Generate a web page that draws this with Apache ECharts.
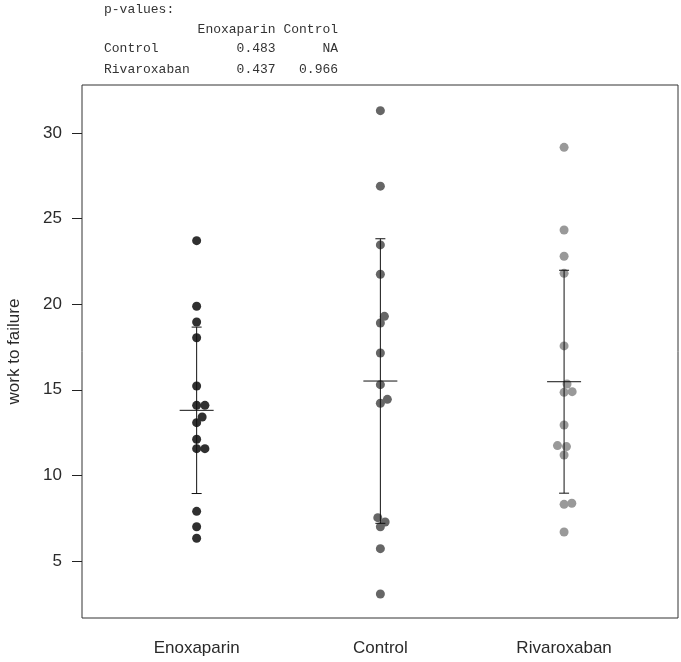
<!DOCTYPE html>
<html>
<head>
<meta charset="utf-8">
<script src="https://cdn.jsdelivr.net/npm/echarts@6/dist/echarts.min.js"></script>
<style>
  html, body { margin: 0; padding: 0; background: #fff; }
  #main { width: 681px; height: 662px; }
</style>
</head>
<body>
<div id="main"></div>
<script>
// groups along the x axis (positions 1, 2, 3)
var groups = ["Enoxaparin", "Control", "Rivaroxaban"];
var yTicks = [5, 10, 15, 20, 25, 30];

// [jittered x, work to failure]
var enoxaparin = [
    [1, 23.71], [1, 19.88], [1, 18.96], [1, 18.04], [1, 15.22],
    [1, 14.09], [1.045, 14.09], [1.03, 13.41], [1, 13.08], [1, 12.11],
    [1, 11.56], [1.045, 11.56], [1, 7.90], [1, 7.00], [1, 6.33]
];
var control = [
    [2, 31.30], [2, 26.89], [2, 23.46], [2, 21.75], [2.022, 19.29],
    [2, 18.90], [2, 17.15], [2, 15.30], [2.038, 14.44], [2, 14.21],
    [1.986, 7.53], [2.026, 7.28], [2, 7.00], [2, 5.72], [2, 3.07]
];
var rivaroxaban = [
    [3, 29.16], [3, 24.33], [3, 22.80], [3, 21.80], [3, 17.56],
    [3.016, 15.34], [3, 14.85], [3.044, 14.89], [3, 12.94], [2.964, 11.74],
    [3.013, 11.68], [3, 11.19], [3, 8.31], [3.042, 8.37], [3, 6.69]
];

// mean and standard deviation per group
var means = [13.80, 15.51, 15.47];
var sds = [4.86, 8.31, 6.51];

// p-value table printed above the plot
var pHeader = "            Enoxaparin Control";
var pRows = [
    "Control          0.483      NA",
    "Rivaroxaban      0.437   0.966"
];

var chart = echarts.init(document.getElementById("main"));

var labelFont = {
    fontFamily: "Liberation Sans",
    fontSize: 17,
    color: "#2a2a2a"
};

var pointSeries = function (data, color) {
    return {
        type: "scatter",
        data: data,
        symbol: "circle",
        symbolSize: 9,
        itemStyle: { color: color, opacity: 1 },
        z: 2,
        silent: true
    };
};

var barData = means.map(function (m, i) {
    return [i + 1, m, m - sds[i], m + sds[i]];
});

var monoText = function (text, top) {
    return {
        type: "text",
        left: 104,
        top: top,
        style: {
            text: text,
            font: "13px 'Liberation Mono', monospace",
            fill: "#333"
        }
    };
};

chart.setOption({
    animation: false,
    backgroundColor: "#fff",
    grid: {
        left: 82,
        right: 3,
        top: 85,
        bottom: 44,
        show: true,
        borderColor: "#333",
        borderWidth: 1,
        containLabel: false,
        outerBoundsMode: "none"
    },
    xAxis: {
        type: "value",
        min: 0.376,
        max: 3.62,
        splitLine: { show: false },
        axisLine: { show: false },
        axisTick: { show: false },
        axisLabel: Object.assign({
            customValues: [1, 2, 3],
            formatter: function (v) {
                return groups[Math.round(v) - 1] || "";
            },
            margin: 22
        }, labelFont)
    },
    yAxis: {
        type: "value",
        min: 1.67,
        max: 32.8,
        name: "work to failure",
        nameLocation: "middle",
        nameGap: 59,
        nameTextStyle: labelFont,
        splitLine: { show: false },
        axisLine: { show: false },
        axisTick: {
            show: true,
            customValues: yTicks,
            length: 10,
            lineStyle: { color: "#222" }
        },
        axisLabel: Object.assign({
            customValues: yTicks,
            margin: 20
        }, labelFont)
    },
    graphic: [
        monoText("p-values:", 3),
        monoText(pHeader, 23),
        monoText(pRows[0], 42),
        monoText(pRows[1], 63)
    ],
    series: [
        pointSeries(enoxaparin, "#303030"),
        pointSeries(control, "#666666"),
        pointSeries(rivaroxaban, "#999999"),
        {
            type: "custom",
            data: barData,
            z: 5,
            silent: true,
            renderItem: function (params, api) {
                var x = api.value(0);
                var mid = api.coord([x, api.value(1)]);
                var lo = api.coord([x, api.value(2)]);
                var hi = api.coord([x, api.value(3)]);
                var style = { stroke: "#111", lineWidth: 1, fill: null };
                var seg = function (x1, y1, x2, y2) {
                    return { type: "line", shape: { x1: x1, y1: y1, x2: x2, y2: y2 }, style: style };
                };
                return {
                    type: "group",
                    children: [
                        seg(mid[0], lo[1], mid[0], hi[1]),
                        seg(mid[0] - 5, lo[1], mid[0] + 5, lo[1]),
                        seg(mid[0] - 5, hi[1], mid[0] + 5, hi[1]),
                        seg(mid[0] - 17, mid[1], mid[0] + 17, mid[1])
                    ]
                };
            }
        }
    ]
});
</script>
</body>
</html>
